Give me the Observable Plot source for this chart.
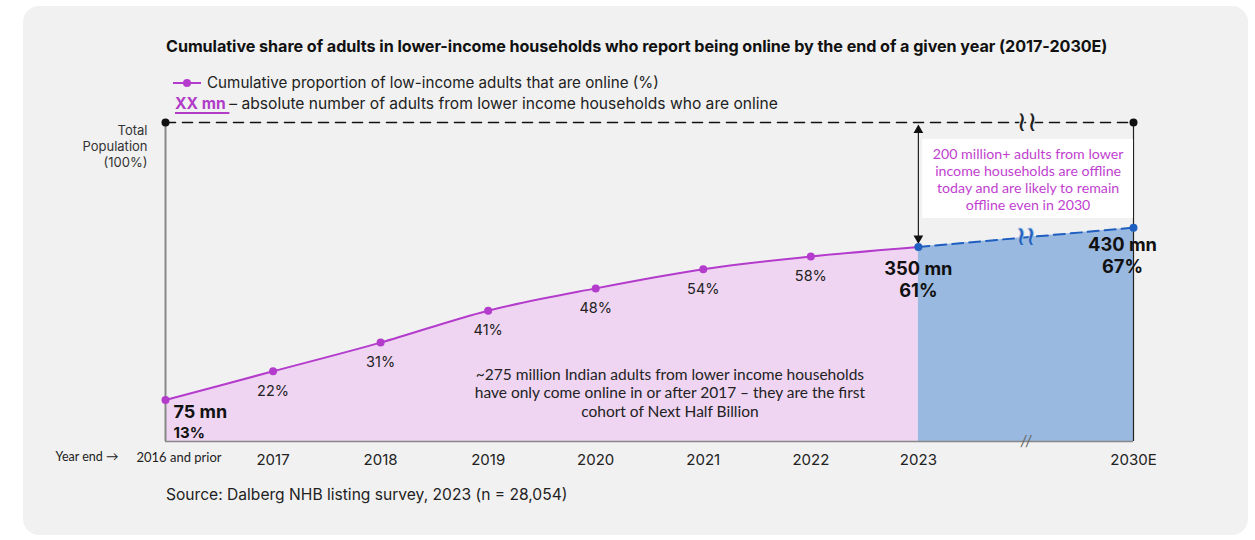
<!DOCTYPE html>
<html>
<head>
<meta charset="utf-8">
<script src="https://cdn.jsdelivr.net/npm/d3@7"></script>
<script src="https://cdn.jsdelivr.net/npm/@observablehq/plot@0.6"></script>
<style>
  html, body { margin: 0; padding: 0; background: #ffffff; }
  #wrap { position: relative; width: 1255px; height: 540px; overflow: hidden; font-family: Inter, "Noto Sans", sans-serif; }
  #panel { position: absolute; left: 23px; top: 6px; width: 1225px; height: 529px; background: #f1f1f1; border-radius: 16px; }
  #title { position: absolute; left: 166px; top: 36px; font-size: 16.15px; font-weight: 700; color: #111; white-space: nowrap; letter-spacing: -0.05px; }
  #leg1 { position: absolute; left: 173px; top: 73px; font-size: 15.2px; color: #222; white-space: nowrap; display: flex; align-items: center; }
  #leg2 { position: absolute; left: 175px; top: 94px; font-size: 15.6px; color: #222; white-space: nowrap; }
  #leg2 b { color: #b03cc8; text-decoration: underline; text-decoration-thickness: 2px; text-underline-offset: 3px; }
  #source { position: absolute; left: 166px; top: 485px; font-size: 15.6px; color: #222; white-space: nowrap; }
  #chart { position: absolute; left: 0; top: 0; }
</style>
</head>
<body>
<div id="wrap">
  <div id="panel"></div>
  <div id="chart"></div>
  <div id="title">Cumulative share of adults in lower-income households who report being online by the end of a given year (2017-2030E)</div>
  <div id="leg1"><svg width="28" height="10" style="margin-right:6px"><line x1="0" y1="5" x2="28" y2="5" stroke="#b43ccc" stroke-width="2"/><circle cx="14" cy="5" r="4" fill="#b43ccc"/></svg>Cumulative proportion of low-income adults that are online (%)</div>
  <div id="leg2"><b>XX mn </b>– absolute number of adults from lower income households who are online</div>
  <div id="source">Source: Dalberg NHB listing survey, 2023 (n = 28,054)</div>
</div>
<script>
// Data
const years = ["2016 and prior", "2017", "2018", "2019", "2020", "2021", "2022", "2023", "2030E"];
const positions = [0, 1, 2, 3, 4, 5, 6, 7, 9];
const shares = [13, 22, 31, 41, 48, 54, 58, 61, 67];
const millions = [75, null, null, null, null, null, null, 350, 430];

const purple = "#b43ccc";
const blue = "#1f5fbf";

const rows = years.map((y, i) => ({year: y, x: positions[i], share: shares[i], mn: millions[i]}));
const actual = rows.slice(0, 8);
const projected = rows.slice(7);
const mid = rows.slice(1, 7);
const first = rows[0], y2023 = rows[7], y2030 = rows[8];
const topLine = [{x: positions[0], y: 100}, {x: positions[8], y: 100}];

const chart = Plot.plot({
  width: 1255,
  height: 540,
  marginLeft: 165,
  marginRight: 122,
  marginTop: 122,
  marginBottom: 99,
  style: {background: "transparent", fontFamily: "Inter, 'Noto Sans', sans-serif", color: "#222"},
  x: {type: "linear", domain: [0, 9], axis: null},
  y: {domain: [0, 100], axis: null},
  marks: [
    Plot.areaY(actual, {x: "x", y: "share", fill: "#efd5f2", curve: "monotone-x"}),
    Plot.areaY(projected, {x: "x", y: "share", fill: "#9ab9e0"}),
    // axes lines
    Plot.ruleY([0], {x1: 0, x2: 9, stroke: "#888", strokeWidth: 1.5}),
    Plot.ruleX([0], {y1: 0, y2: 100, stroke: "#888", strokeWidth: 2}),
    Plot.ruleX([9], {y1: 0, y2: 100, stroke: "#222", strokeWidth: 1.2}),
    // top total population line
    Plot.line(topLine, {x: "x", y: "y", stroke: "#111", strokeWidth: 1.6, strokeDasharray: "10,7"}),
    Plot.dot(topLine, {x: "x", y: "y", r: 4, fill: "#111"}),
    // white annotation box
    Plot.rect([{x1: 7.04, x2: 9, y1: 69.9, y2: 94.7}], {x1: "x1", x2: "x2", y1: "y1", y2: "y2", fill: "#ffffff"}),
    Plot.text(["200 million+ adults from lower\nincome households are offline\ntoday and are likely to remain\noffline even in 2030"],
      {x: 8.02, y: 82.3, fill: "#c13fd0", fontSize: 14.2, lineHeight: 1.2, fontFamily: "Lato, sans-serif", textAnchor: "middle"}),
    // double arrow
    Plot.link([{x: 7, y1: 97.5, y2: 63.8}], {x1: "x", x2: "x", y1: "y1", y2: "y2", stroke: "#222", strokeWidth: 1.2}),
    Plot.dot([{x: 7, y: 97.6}], {x: "x", y: "y", symbol: "triangle", r: 3.6, fill: "#111"}),
    Plot.dot([{x: 7, y: 63.7}], {x: "x", y: "y", symbol: "triangle", rotate: 180, r: 3.6, fill: "#111"}),
    // lines
    Plot.line(actual, {x: "x", y: "share", stroke: purple, strokeWidth: 2, curve: "monotone-x"}),
    Plot.line(projected, {x: "x", y: "share", stroke: blue, strokeWidth: 2, strokeDasharray: "11,6"}),
    Plot.dot(actual.slice(0, 7), {x: "x", y: "share", r: 4, fill: purple}),
    Plot.dot(projected, {x: "x", y: "share", r: 4, fill: blue}),
    // break marks
    Plot.text(["≀≀"], {x: 8, y: 100, fontSize: 28, fontFamily: "DejaVu Sans", fill: "#222", stroke: "#f1f1f1", strokeWidth: 2, paintOrder: "stroke", dx: 1}),
    Plot.text(["≀≀"], {x: 8, y: 64.2, fontSize: 26, fontFamily: "DejaVu Sans", fill: blue, stroke: "#9ab9e0", strokeWidth: 2, paintOrder: "stroke"}),
    Plot.text(["//"], {x: 8, y: 0, fontSize: 14, fill: "#666", fontStyle: "italic"}),
    // percent labels
    Plot.text(mid, {x: "x", y: "share", text: d => d.share + "%", dy: 20, fontSize: 14.5, fill: "#222"}),
    // bold labels
    Plot.text([first], {x: "x", y: "share", text: d => d.mn + " mn", dx: 8, dy: 12, textAnchor: "start", fontSize: 18, fontWeight: 700, fill: "#111"}),
    Plot.text([first], {x: "x", y: "share", text: d => d.share + "%", dx: 8, dy: 33, textAnchor: "start", fontSize: 15, fontWeight: 700, fill: "#111"}),
    Plot.text([y2023], {x: "x", y: "share", text: d => d.mn + " mn", dy: 22, fontSize: 18.3, fontWeight: 700, fill: "#111"}),
    Plot.text([y2023], {x: "x", y: "share", text: d => d.share + "%", dy: 44, fontSize: 18.3, fontWeight: 700, fill: "#111"}),
    Plot.text([y2030], {x: "x", y: "share", text: d => d.mn + " mn", dx: -11, dy: 17, fontSize: 18.3, fontWeight: 700, fill: "#111"}),
    Plot.text([y2030], {x: "x", y: "share", text: d => d.share + "%", dx: -11, dy: 39, fontSize: 18.3, fontWeight: 700, fill: "#111"}),
    // middle annotation
    Plot.text(["~275 million Indian adults from lower income households\nhave only come online in or after 2017 – they are the first\ncohort of Next Half Billion"],
      {x: 4.69, y: 15.4, fontSize: 15.5, lineHeight: 1.2, fontFamily: "Lato, sans-serif", fill: "#222", textAnchor: "middle"}),
    // x tick labels
    Plot.text(rows.slice(1), {x: "x", y: 0, text: "year", dy: 19, fontSize: 15, fill: "#222"}),
    Plot.text([first], {x: "x", y: 0, text: "year", dx: -29, dy: 16, textAnchor: "start", fontSize: 13, fontFamily: "Lato, sans-serif", fill: "#222"}),
    Plot.text(["Year end →"], {x: 0, y: 0, dx: -47, dy: 15, textAnchor: "end", fontSize: 12.5, fontFamily: "Lato, sans-serif", fill: "#222"}),
    // y label
    Plot.text(["Total\nPopulation\n(100%)"], {x: 0, y: 100, dx: -18, dy: 1, textAnchor: "end", lineAnchor: "top", fontSize: 13, lineHeight: 1.23, fill: "#333"})
  ]
});
document.getElementById("chart").appendChild(chart);
</script>
</body>
</html>
